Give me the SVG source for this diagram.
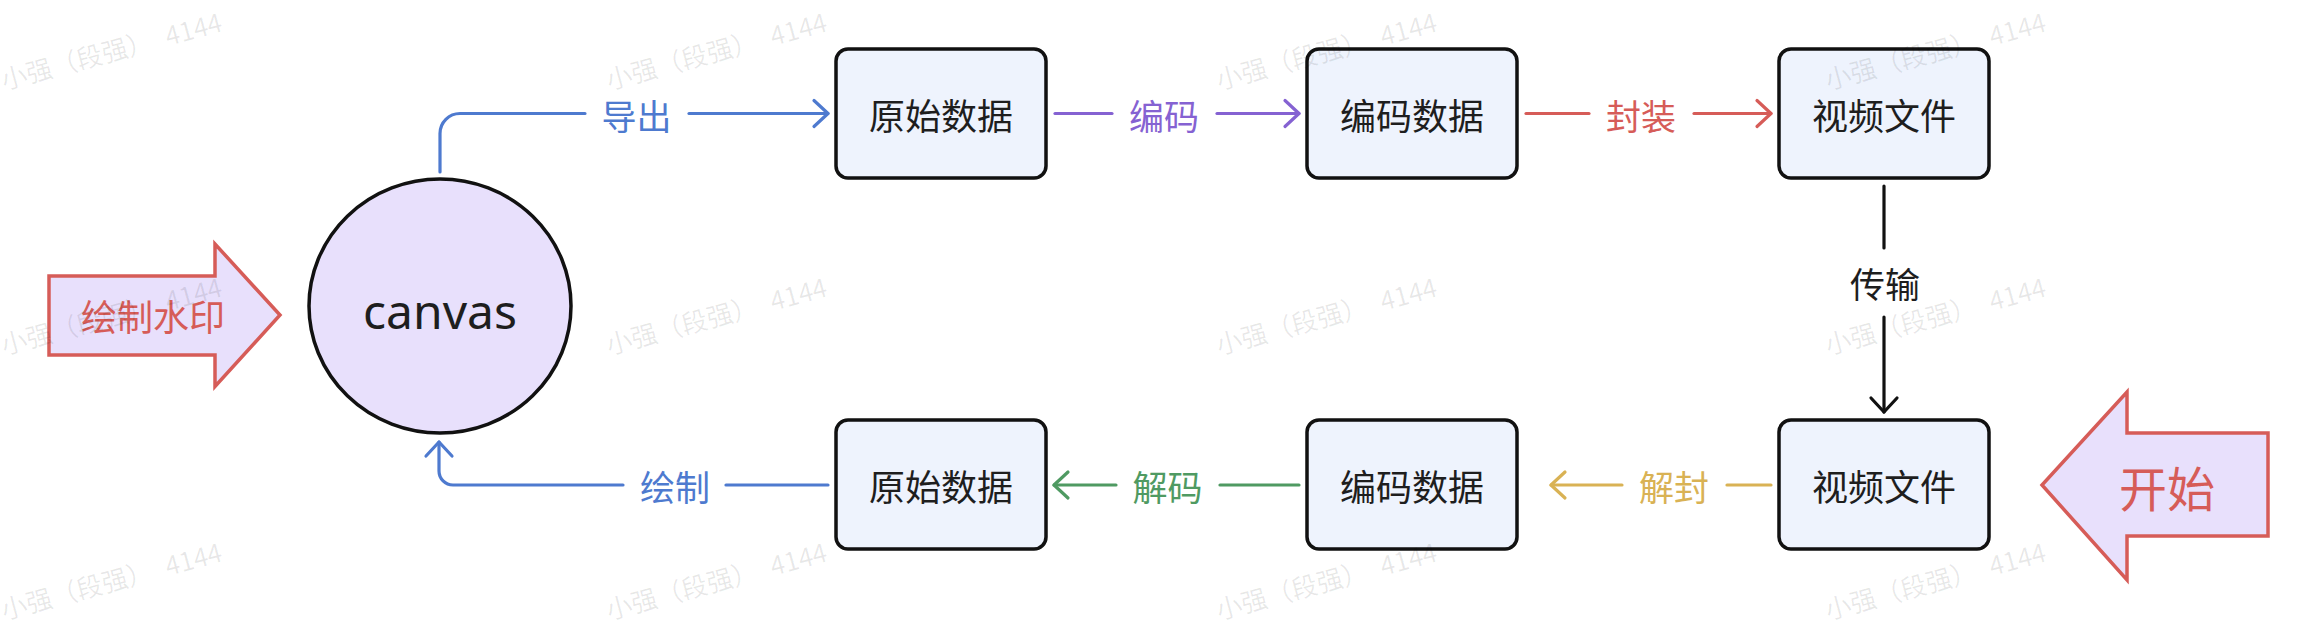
<svg xmlns="http://www.w3.org/2000/svg" width="2320" height="630" viewBox="0 0 2320 630">
  <style>
    .box { fill: #eef3fd; stroke: #111111; stroke-width: 3.5; }
    .circ { fill: #e8e0fc; stroke: #111111; stroke-width: 3.5; }
    .bigarrow { fill: #e8e0fc; stroke: #d65c58; stroke-width: 3.5; stroke-linejoin: miter; }
    .nt { font-family: "Noto Sans CJK SC", "Noto Sans", sans-serif; font-size: 36px; fill: #1e1e1e; text-anchor: middle; }
    .lbl { font-family: "Noto Sans CJK SC", "Noto Sans", sans-serif; font-size: 35px; text-anchor: middle; }
    .ln { fill: none; stroke-width: 3.2; stroke-linecap: round; stroke-linejoin: round; }
    .blue { stroke: #4e7acf; } .tblue { fill: #4e7acf; }
    .purple { stroke: #8562d2; } .tpurple { fill: #8562d2; }
    .red { stroke: #d65c58; } .tred { fill: #d65c58; }
    .black { stroke: #111111; } .tblack { fill: #1e1e1e; }
    .yellow { stroke: #d9b254; } .tyellow { fill: #d9b254; }
    .green { stroke: #4f9a62; } .tgreen { fill: #4f9a62; }
    .wm { font-family: "Noto Sans CJK SC", "Noto Sans", sans-serif; font-size: 26px; fill: #000000; fill-opacity: 0.09; }
  </style>
  <defs>
    <marker id="m-blue" markerUnits="userSpaceOnUse" markerWidth="40" markerHeight="40" refX="0" refY="0" orient="auto" overflow="visible">
      <path d="M-14,-13 L0,0 L-14,13" fill="none" stroke="#4e7acf" stroke-width="3.2" stroke-linecap="round" stroke-linejoin="round"/>
    </marker>
    <marker id="m-purple" markerUnits="userSpaceOnUse" markerWidth="40" markerHeight="40" refX="0" refY="0" orient="auto" overflow="visible">
      <path d="M-14,-13 L0,0 L-14,13" fill="none" stroke="#8562d2" stroke-width="3.2" stroke-linecap="round" stroke-linejoin="round"/>
    </marker>
    <marker id="m-red" markerUnits="userSpaceOnUse" markerWidth="40" markerHeight="40" refX="0" refY="0" orient="auto" overflow="visible">
      <path d="M-14,-13 L0,0 L-14,13" fill="none" stroke="#d65c58" stroke-width="3.2" stroke-linecap="round" stroke-linejoin="round"/>
    </marker>
    <marker id="m-black" markerUnits="userSpaceOnUse" markerWidth="40" markerHeight="40" refX="0" refY="0" orient="auto" overflow="visible">
      <path d="M-14,-13 L0,0 L-14,13" fill="none" stroke="#111111" stroke-width="3.2" stroke-linecap="round" stroke-linejoin="round"/>
    </marker>
    <marker id="m-yellow" markerUnits="userSpaceOnUse" markerWidth="40" markerHeight="40" refX="0" refY="0" orient="auto" overflow="visible">
      <path d="M-14,-13 L0,0 L-14,13" fill="none" stroke="#d9b254" stroke-width="3.2" stroke-linecap="round" stroke-linejoin="round"/>
    </marker>
    <marker id="m-green" markerUnits="userSpaceOnUse" markerWidth="40" markerHeight="40" refX="0" refY="0" orient="auto" overflow="visible">
      <path d="M-14,-13 L0,0 L-14,13" fill="none" stroke="#4f9a62" stroke-width="3.2" stroke-linecap="round" stroke-linejoin="round"/>
    </marker>
  </defs>

  <rect x="0" y="0" width="2320" height="630" fill="#ffffff"/>

  <!-- Nodes -->
  <g id="node-watermark-arrow">
    <polygon class="bigarrow" points="49,276 215,276 215,244 280,315 215,386.5 215,355 49,355"/>
    <text class="nt" x="153" y="331" style="fill:#d65c58">绘制水印</text>
  </g>

  <g id="node-canvas">
    <ellipse class="circ" cx="440" cy="306" rx="131" ry="127"/>
    <text x="440" y="329" font-family="Noto Sans, sans-serif" font-size="48" fill="#1e1e1e" text-anchor="middle">canvas</text>
  </g>

  <g id="node-raw-top">
    <rect class="box" x="836" y="49" width="210" height="129" rx="12" ry="12"/>
    <text class="nt" x="941" y="130">原始数据</text>
  </g>
  <g id="node-enc-top">
    <rect class="box" x="1307" y="49" width="210" height="129" rx="12" ry="12"/>
    <text class="nt" x="1412" y="130">编码数据</text>
  </g>
  <g id="node-video-top">
    <rect class="box" x="1779" y="49" width="210" height="129" rx="12" ry="12"/>
    <text class="nt" x="1884" y="130">视频文件</text>
  </g>
  <g id="node-video-bottom">
    <rect class="box" x="1779" y="420" width="210" height="129" rx="12" ry="12"/>
    <text class="nt" x="1884" y="501">视频文件</text>
  </g>
  <g id="node-enc-bottom">
    <rect class="box" x="1307" y="420" width="210" height="129" rx="12" ry="12"/>
    <text class="nt" x="1412" y="501">编码数据</text>
  </g>
  <g id="node-raw-bottom">
    <rect class="box" x="836" y="420" width="210" height="129" rx="12" ry="12"/>
    <text class="nt" x="941" y="501">原始数据</text>
  </g>

  <g id="node-start-arrow">
    <polygon class="bigarrow" points="2268,433 2127,433 2127,392 2042,485 2127,580 2127,536 2268,536"/>
    <text x="2167" y="507" font-family="Noto Sans CJK SC, Noto Sans, sans-serif" font-size="48" fill="#d65c58" text-anchor="middle">开始</text>
  </g>

  <!-- Connectors -->
  <g id="connectors">
    <!-- 导出 -->
    <path class="ln blue" d="M440,172 L440,133.5 A20,20 0 0 1 460,113.5 L585,113.5"/>
    <path class="ln blue" d="M689,113.5 L828,113.5" marker-end="url(#m-blue)"/>
    <text class="lbl tblue" x="636.5" y="130">导出</text>

    <!-- 编码 -->
    <path class="ln purple" d="M1055,113.5 L1112,113.5"/>
    <path class="ln purple" d="M1217,113.5 L1299,113.5" marker-end="url(#m-purple)"/>
    <text class="lbl tpurple" x="1164" y="130">编码</text>

    <!-- 封装 -->
    <path class="ln red" d="M1526,113.5 L1589,113.5"/>
    <path class="ln red" d="M1694,113.5 L1771,113.5" marker-end="url(#m-red)"/>
    <text class="lbl tred" x="1641" y="130">封装</text>

    <!-- 传输 -->
    <path class="ln black" d="M1884,186 L1884,248"/>
    <path class="ln black" d="M1884,317 L1884,412" marker-end="url(#m-black)"/>
    <text class="lbl tblack" x="1885" y="298">传输</text>

    <!-- 解封 -->
    <path class="ln yellow" d="M1771,485 L1727,485"/>
    <path class="ln yellow" d="M1622,485 L1551,485" marker-end="url(#m-yellow)"/>
    <text class="lbl tyellow" x="1674" y="500.5">解封</text>

    <!-- 解码 -->
    <path class="ln green" d="M1299,485 L1220,485"/>
    <path class="ln green" d="M1116,485 L1054,485" marker-end="url(#m-green)"/>
    <text class="lbl tgreen" x="1167.5" y="500.5">解码</text>

    <!-- 绘制 -->
    <path class="ln blue" d="M828,485 L726,485"/>
    <path class="ln blue" d="M623,485 L453,485 A14,14 0 0 1 439,471 L439,442" marker-end="url(#m-blue)"/>
    <text class="lbl tblue" x="675" y="500.5">绘制</text>
  </g>

  <!-- Watermark -->
  <g id="watermark">
    <text class="wm" x="4" y="90" transform="rotate(-15 4 90)">小强（段强） <tspan dx="8">4144</tspan></text>
    <text class="wm" x="609" y="90" transform="rotate(-15 609 90)">小强（段强） <tspan dx="8">4144</tspan></text>
    <text class="wm" x="1219" y="90" transform="rotate(-15 1219 90)">小强（段强） <tspan dx="8">4144</tspan></text>
    <text class="wm" x="1828" y="90" transform="rotate(-15 1828 90)">小强（段强） <tspan dx="8">4144</tspan></text>
    <text class="wm" x="4" y="355" transform="rotate(-15 4 355)">小强（段强） <tspan dx="8">4144</tspan></text>
    <text class="wm" x="609" y="355" transform="rotate(-15 609 355)">小强（段强） <tspan dx="8">4144</tspan></text>
    <text class="wm" x="1219" y="355" transform="rotate(-15 1219 355)">小强（段强） <tspan dx="8">4144</tspan></text>
    <text class="wm" x="1828" y="355" transform="rotate(-15 1828 355)">小强（段强） <tspan dx="8">4144</tspan></text>
    <text class="wm" x="4" y="620" transform="rotate(-15 4 620)">小强（段强） <tspan dx="8">4144</tspan></text>
    <text class="wm" x="609" y="620" transform="rotate(-15 609 620)">小强（段强） <tspan dx="8">4144</tspan></text>
    <text class="wm" x="1219" y="620" transform="rotate(-15 1219 620)">小强（段强） <tspan dx="8">4144</tspan></text>
    <text class="wm" x="1828" y="620" transform="rotate(-15 1828 620)">小强（段强） <tspan dx="8">4144</tspan></text>
  </g>
</svg>
